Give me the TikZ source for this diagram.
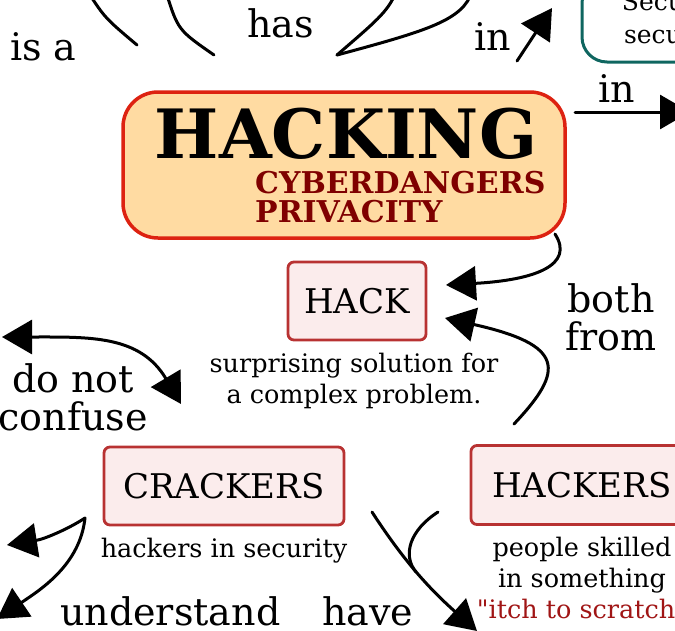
\documentclass[tikz,border=0pt]{standalone}
\usepackage{fontspec}
\setmainfont{DejaVu Serif}
\newfontfamily\rawserif{DejaVu Serif}
\usetikzlibrary{arrows.meta}
\definecolor{hackfill}{HTML}{FFDBA2}
\definecolor{hackdraw}{HTML}{DD2211}
\definecolor{subred}{HTML}{7F0000}
\definecolor{boxfill}{HTML}{FBECEC}
\definecolor{boxdraw}{HTML}{B83232}
\definecolor{tealdraw}{HTML}{0F6660}
\definecolor{itchred}{HTML}{A01515}
\tikzset{
  mainbox/.style={draw=hackdraw, fill=hackfill, line width=3.5pt, rounded corners=35pt, inner sep=0pt},
  conceptbox/.style={draw=boxdraw, fill=boxfill, line width=2.8pt, rounded corners=6pt, inner sep=0pt,
     font=\fontsize{34}{36}\selectfont},
  tealbox/.style={draw=tealdraw, line width=3pt, rounded corners=25pt, inner sep=0pt, align=center,
     font=\fontsize{25}{33}\selectfont},
  desc/.style={inner sep=0pt, align=center, font=\fontsize{25.5}{31}\selectfont},
  lbl/.style={inner sep=0pt, align=center, font=\fontsize{38}{38}\selectfont},
  conn/.style={line width=3pt, line cap=round},
  arr/.style={conn, -{Triangle[length=30pt,width=34pt]}},
  darr/.style={conn, {Triangle[length=30pt,width=34pt]}-{Triangle[length=30pt,width=34pt]}},
}
\begin{document}
\begin{tikzpicture}[x=1pt,y=-1pt]
\useasboundingbox (0,0) rectangle (675,630);
\clip (0,0) rectangle (675,630);

% nodes
\node[mainbox, minimum width=442pt, minimum height=146pt] (hacking) at (344,165) {};
\node[inner sep=0pt, anchor=base, font=\bfseries\fontsize{68}{68}\selectfont] (title) at (346,158) {HACKING};
\node[inner sep=0pt, anchor=base west, align=left, text=subred, font=\bfseries\fontsize{30}{29}\selectfont] (sub) at (255,222) {CYBERDANGERS\\PRIVACITY};

\node[tealbox, minimum width=186pt, minimum height=84pt, anchor=base] (sec) at (675,43) {Security\\security};

\node[conceptbox, minimum width=138pt, minimum height=78pt] (hack) at (357,301) {HACK};
\node[desc, anchor=base] (hackd) at (354,403) {surprising solution for\\a complex problem.};

\node[conceptbox, minimum width=240pt, minimum height=78pt] (crackers) at (224,486) {CRACKERS};
\node[desc, anchor=base] (crackd) at (224,557) {hackers in security};

\node[conceptbox, minimum width=222pt, minimum height=79pt] (hackers) at (582,485) {HACKERS};
\node[desc, anchor=base] (hackersd) at (582,618) {people skilled\\in something\\\textcolor{itchred}{{\rawserif"}itch to scratch{\rawserif"}}};

% labels
\node[lbl, anchor=base west] (lisa) at (10,60) {is a};
\node[lbl, anchor=base west] (lhas) at (247,37) {has};
\node[lbl, anchor=base west] (lin1) at (474,50) {in};
\node[lbl, anchor=base west] (lin2) at (598,102) {in};
\node[lbl, anchor=base] (lboth) at (611,350) {both\\from};
\node[lbl, anchor=base] (lconf) at (73,430) {do not\\confuse};
\node[lbl, anchor=base west] (lund) at (60,625) {understand};
\node[lbl, anchor=base west] (lhave) at (322,625) {have};

% connector end points
\coordinate (isaA) at (88,-8);
\coordinate (isaB) at (137,45);
\coordinate (hasA) at (166,-8);
\coordinate (hasB) at (214,55);
\coordinate (tip) at (337,55);
\coordinate (hasC) at (396,-8);
\coordinate (hasD) at (472,-8);
\coordinate (in1s) at (517,61);
\coordinate (in1e) at (552,8);
\coordinate (in2s) at (575,112);
\coordinate (in2e) at (690,112);
\coordinate (bothA) at (555,234);
\coordinate (bothB) at (446,285);
\coordinate (fromA) at (514,424);
\coordinate (fromB) at (445,318);
\coordinate (confL) at (2,337);
\coordinate (confR) at (181,404);
\coordinate (crk) at (85,518);
\coordinate (und1) at (7,545);
\coordinate (und2) at (-3,619);
\coordinate (haveA) at (372,512);
\coordinate (haveB) at (477,631);
\coordinate (haveC) at (438,512);
\coordinate (haveM) at (416,572);

% connectors
\draw[conn] (isaA) .. controls (105,18) .. (isaB);
\draw[conn] (hasA) .. controls (178,30) .. (hasB);
\draw[conn] (tip) .. controls (375,22) and (388,12) .. (hasC);
\draw[conn] (tip) .. controls (430,30) and (462,20) .. (hasD);
\draw[arr] (in1s) -- (in1e);
\draw[arr] (in2s) -- (in2e);
\draw[arr] (bothA) .. controls (575,265) and (535,280) .. (bothB);
\draw[arr] (fromA) .. controls (565,370) and (565,345) .. (fromB);
\draw[darr] (confL) .. controls (90,337) and (140,335) .. (confR);
\draw[arr] (crk) .. controls (70,528) and (45,539) .. (und1);
\draw[arr] (crk) .. controls (80,565) and (40,590) .. (und2);
\draw[arr] (haveA) .. controls (400,555) and (425,585) .. (haveB);
\draw[conn] (haveC) .. controls (410,530) and (402,555) .. (haveM);
\end{tikzpicture}
\end{document}
